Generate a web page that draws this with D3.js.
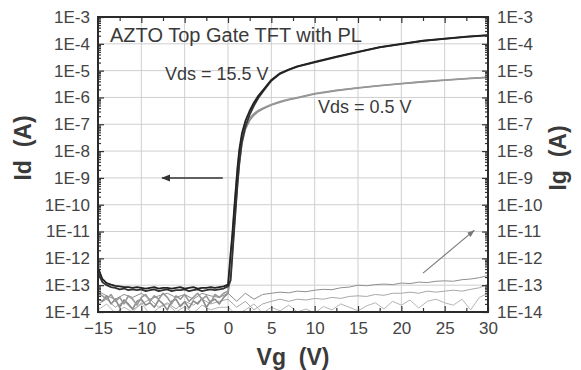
<!DOCTYPE html>
<html><head><meta charset="utf-8">
<script src="https://cdn.jsdelivr.net/npm/d3@7"></script>
<style>
html,body{margin:0;padding:0;background:#fff;}
svg{display:block;font-family:"Liberation Sans",Arial,sans-serif;}
</style></head>
<body><svg id="c" width="581" height="370"></svg>
<script>
// ---------- data ----------
const vgSweep = [-15,-14.5,-14,-13.5,-13,-12.5,-12,-11.5,-11,-10.5,-10,-9.5,-9,-8.5,-8,-7.5,-7,-6.5,-6,-5.5,-5,-4.5,-4,-3.5,-3,-2.5,-2,-1.5,-1,-0.5,0,
  0.3,0.5,0.7,0.9,1.1,1.3,1.6,2,2.5,3,3.5,4,5,6,7,8,10,12.5,15,17.5,20,22.5,25,27.5,30];
// Vds = 15.5 V (two sweeps)
const idHighFwd = [4.5e-13,1.7e-13,1.2e-13,1.05e-13,9.5e-14,9e-14,8.5e-14,8.5e-14,8e-14,8.5e-14,8e-14,7.5e-14,8e-14,8.5e-14,7.5e-14,8e-14,8e-14,7.5e-14,8e-14,8.5e-14,7.5e-14,8e-14,8.5e-14,7.5e-14,8e-14,8e-14,8.5e-14,8e-14,8.5e-14,9e-14,1.05e-13,
  1.5e-12,8e-12,6e-11,4e-10,2.5e-9,1.1e-8,4.5e-8,1.3e-7,3.2e-7,6.5e-7,1.15e-6,1.8e-6,4.5e-6,8e-6,1.1e-5,1.45e-5,2.1e-5,3.3e-5,5e-5,7.5e-5,1.0e-4,1.3e-4,1.55e-4,1.85e-4,2.1e-4];
const idHighRev = [3e-13,1.3e-13,1e-13,8.5e-14,8e-14,7e-14,7.5e-14,6.5e-14,7e-14,6.5e-14,7e-14,6e-14,6.5e-14,7e-14,6e-14,6.5e-14,7e-14,6e-14,6.5e-14,6.5e-14,7e-14,6e-14,6.5e-14,7e-14,6e-14,6.5e-14,7e-14,6.5e-14,7e-14,7.5e-14,9e-14,
  1.5e-13,1.2e-12,1e-11,8e-11,6e-10,3.5e-9,2.2e-8,8e-8,2.3e-7,5e-7,9.5e-7,1.6e-6,4.2e-6,7.6e-6,1.07e-5,1.4e-5,2.05e-5,3.2e-5,4.9e-5,7.3e-5,9.8e-5,1.28e-4,1.52e-4,1.82e-4,2.05e-4];
// Vds = 0.5 V (two sweeps)
const idLowFwd = [5e-14,4e-14,3e-14,4.5e-14,2.5e-14,3.5e-14,2e-14,4e-14,3e-14,1.8e-14,3.5e-14,4.5e-14,2.5e-14,4e-14,3e-14,5e-14,3.5e-14,2e-14,4e-14,3e-14,4.5e-14,2.5e-14,3.5e-14,5e-14,3e-14,4e-14,2.2e-14,4.5e-14,3.5e-14,5e-14,6e-14,
  1.2e-12,7e-12,5e-11,3.5e-10,2.2e-9,9e-9,3.5e-8,9e-8,1.7e-7,2.5e-7,3.3e-7,4e-7,5.5e-7,7e-7,8.5e-7,1e-6,1.4e-6,1.85e-6,2.3e-6,2.8e-6,3.3e-6,3.9e-6,4.5e-6,5.1e-6,5.7e-6];
const idLowRev = [3e-14,2.5e-14,4e-14,2e-14,3e-14,1.5e-14,2.8e-14,2e-14,1.3e-14,2.5e-14,3e-14,1.8e-14,2.2e-14,1.5e-14,2.8e-14,2e-14,1.2e-14,2.5e-14,3e-14,1.6e-14,2.4e-14,1.4e-14,2.6e-14,2e-14,3.2e-14,1.5e-14,2.5e-14,3e-14,2e-14,3.5e-14,5e-14,
  2e-13,1.5e-12,1.2e-11,9e-11,6e-10,3e-9,1.8e-8,6.5e-8,1.4e-7,2.2e-7,3e-7,3.7e-7,5.2e-7,6.7e-7,8.2e-7,9.6e-7,1.35e-6,1.8e-6,2.25e-6,2.75e-6,3.25e-6,3.8e-6,4.4e-6,5e-6,5.6e-6];
// gate leakage
const vgIg = [-15,-14,-13,-12,-11,-10,-9,-8,-7,-6,-5,-4,-3,-2,-1,0,1,2,3,4,5,6,7,8,9,10,11,12,13,14,15,16,17,18,19,20,21,22,23,24,25,26,27,28,29,30];
const ig1 = [6e-14,4e-14,3e-14,4.5e-14,3.5e-14,5e-14,3e-14,4e-14,5e-14,3.5e-14,4.5e-14,3e-14,5e-14,4e-14,3.5e-14,
  5e-14,2.5e-14,5e-14,3e-14,4.5e-14,5e-14,5.5e-14,5.2e-14,6e-14,5.7e-14,6.5e-14,7e-14,6.8e-14,8e-14,8.5e-14,1e-13,9.5e-14,1.05e-13,1.1e-13,1.05e-13,1.2e-13,1.15e-13,1.3e-13,1.25e-13,1.4e-13,1.45e-13,1.4e-13,1.6e-13,1.7e-13,1.9e-13,2.3e-13];
const ig2 = [2e-14,3e-14,1.5e-14,2.5e-14,1.2e-14,2e-14,3e-14,1.5e-14,2.2e-14,1.3e-14,2.5e-14,1.8e-14,3e-14,2e-14,2.5e-14,
  3e-14,1.5e-14,2.5e-14,1.2e-14,2e-14,2.5e-14,3e-14,2.5e-14,3e-14,2.8e-14,3.2e-14,3e-14,3.5e-14,3.2e-14,3.8e-14,4e-14,3.8e-14,4.5e-14,4.2e-14,5e-14,5e-14,5.5e-14,5e-14,6e-14,5.5e-14,6e-14,6.5e-14,6e-14,7e-14,8e-14,1.1e-13];
const ig3 = [1.2e-14,2e-14,9e-15,1.5e-14,1e-14,2.2e-14,8e-15,1.4e-14,2e-14,1e-14,1.6e-14,9e-15,1.8e-14,1.2e-14,1.5e-14,
  1.5e-14,8e-15,1.2e-14,2e-14,9e-15,1.5e-14,1.1e-14,1.8e-14,1e-14,1.3e-14,9e-15,1.6e-14,1.2e-14,2e-14,1.5e-14,1.1e-14,1.7e-14,2.2e-14,1.3e-14,2.5e-14,1.8e-14,2.8e-14,1.4e-14,2.5e-14,3e-14,2.2e-14,1.8e-14,3e-14,1.2e-14,3.5e-14,5e-14];
const xTicks = [-15,-10,-5,0,5,10,15,20,25,30];
const yExponents = [-14,-13,-12,-11,-10,-9,-8,-7,-6,-5,-4,-3];
const yTickLabels = ["1E-14","1E-13","1E-12","1E-11","1E-10","1E-9","1E-8","1E-7","1E-6","1E-5","1E-4","1E-3"];
const titleText = "AZTO Top Gate TFT with PL";
const seriesLabels = ["Vds = 15.5 V","Vds = 0.5 V"];
const arrowLeft = [[-0.6,1e-9],[-7.6,1e-9]];
const arrowRight = [[22.5,2.8e-13],[28.4,1.1e-11]];

// ---------- layout ----------
const svg = d3.select("#c");
const L=98, R=488, T=17, B=312;
const x = d3.scaleLinear().domain([-15,30]).range([L,R]);
const y = d3.scaleLog().domain([1e-14,1e-3]).range([B,T]);
const decades = yExponents.map(e=>Math.pow(10,e));
const minors = [];
for (let e=-14;e<-3;e++) for (let k=2;k<10;k++) minors.push(k*Math.pow(10,e));
const xMinor = d3.range(-12.5,30,5);

svg.append("defs").append("clipPath").attr("id","clip")
  .append("rect").attr("x",L).attr("y",T).attr("width",R-L).attr("height",B-T);
const mk = svg.select("defs");
mk.append("marker").attr("id","ah").attr("viewBox","0 0 10 10").attr("refX",9).attr("refY",5)
  .attr("markerWidth",6).attr("markerHeight",6).attr("orient","auto")
  .append("path").attr("d","M0,1L10,5L0,9Z").attr("fill","#333");
mk.append("marker").attr("id","ah2").attr("viewBox","0 0 10 10").attr("refX",9).attr("refY",5)
  .attr("markerWidth",7).attr("markerHeight",7).attr("orient","auto")
  .append("path").attr("d","M0,1.5L10,5L0,8.5Z").attr("fill","#777");

// grid
const g = svg.append("g");
g.selectAll(".gx").data(xTicks.slice(1,-1)).join("line")
  .attr("x1",d=>x(d)).attr("x2",d=>x(d)).attr("y1",T).attr("y2",B)
  .attr("stroke","#cfcfcf").attr("stroke-width",1);
g.selectAll(".gy").data(decades.slice(1,-1)).join("line")
  .attr("y1",d=>y(d)).attr("y2",d=>y(d)).attr("x1",L).attr("x2",R)
  .attr("stroke","#cfcfcf").attr("stroke-width",1);

// curves
const plot = svg.append("g").attr("clip-path","url(#clip)");
const line = d3.line().x(d=>x(d[0])).y(d=>y(Math.max(d[1],5e-15)));
const zip = (xs,ys)=>xs.map((v,i)=>[v,ys[i]]);
const drawSeries = (xs,ys,color,w)=>plot.append("path").datum(zip(xs,ys))
  .attr("d",line).attr("fill","none").attr("stroke",color).attr("stroke-width",w).attr("stroke-linejoin","round");
drawSeries(vgIg,ig3,"#b5b5b5",1);
drawSeries(vgIg,ig2,"#a8a8a8",1);
drawSeries(vgIg,ig1,"#8f8f8f",1);
drawSeries(vgSweep,idLowRev,"#8a8a8a",1.6);
drawSeries(vgSweep,idLowFwd,"#999",1.6);
drawSeries(vgSweep,idHighRev,"#333",1.8);
drawSeries(vgSweep,idHighFwd,"#222",1.8);

// arrows
svg.append("line").attr("x1",x(arrowLeft[0][0])).attr("y1",y(arrowLeft[0][1]))
  .attr("x2",x(arrowLeft[1][0])).attr("y2",y(arrowLeft[1][1]))
  .attr("stroke","#333").attr("stroke-width",1.5).attr("marker-end","url(#ah)");
svg.append("line").attr("x1",x(arrowRight[0][0])).attr("y1",y(arrowRight[0][1]))
  .attr("x2",x(arrowRight[1][0])).attr("y2",y(arrowRight[1][1]))
  .attr("stroke","#777").attr("stroke-width",1.1).attr("marker-end","url(#ah2)");

// axes
const fmtY = d=>yTickLabels[yExponents.indexOf(Math.round(Math.log10(d)))];
const styleAxis = sel=>{sel.select(".domain").remove();
  sel.selectAll("line").attr("stroke","#333").attr("stroke-width",1.2);
  sel.selectAll("text").attr("fill","#444").style("font-size","17px").style("font-family","'Liberation Sans',Arial,sans-serif");};
svg.append("g").attr("transform",`translate(${L},0)`)
  .call(d3.axisLeft(y).tickValues(decades).tickSize(-6).tickPadding(8).tickFormat(fmtY)).call(styleAxis);
svg.append("g").attr("transform",`translate(${L},0)`)
  .call(d3.axisLeft(y).tickValues(minors).tickSize(-3).tickFormat("")).call(styleAxis);
svg.append("g").attr("transform",`translate(${R},0)`)
  .call(d3.axisRight(y).tickValues(decades).tickSize(-6).tickPadding(9).tickFormat(fmtY)).call(styleAxis);
svg.append("g").attr("transform",`translate(${R},0)`)
  .call(d3.axisRight(y).tickValues(minors).tickSize(-3).tickFormat("")).call(styleAxis);
svg.append("g").attr("transform",`translate(0,${B})`)
  .call(d3.axisBottom(x).tickValues(xTicks).tickSize(-6).tickPadding(10).tickFormat(d3.format("d"))).call(styleAxis);
svg.append("g").attr("transform",`translate(0,${B})`)
  .call(d3.axisBottom(x).tickValues(xMinor).tickSize(-4).tickFormat("")).call(styleAxis);
svg.append("g").attr("transform",`translate(0,${T})`)
  .call(d3.axisTop(x).tickValues(xTicks).tickSize(-6).tickFormat("")).call(styleAxis);
svg.append("g").attr("transform",`translate(0,${T})`)
  .call(d3.axisTop(x).tickValues(xMinor).tickSize(-4).tickFormat("")).call(styleAxis);
svg.append("rect").attr("x",L).attr("y",T).attr("width",R-L).attr("height",B-T)
  .attr("fill","none").attr("stroke","#2a2a2a").attr("stroke-width",2);

// texts
const txt = (s,xx,yy,size,extra)=>{const t=svg.append("text").attr("x",xx).attr("y",yy)
  .attr("fill","#3a3a3a").style("font-size",size+"px").style("white-space","pre").text(s); if(extra) extra(t); return t;};
txt(titleText,110,42,20);
txt(seriesLabels[0],165,80,18);
txt(seriesLabels[1],318,113,18);
txt("Vg  (V)",293,365,23,t=>t.attr("text-anchor","middle").style("font-weight","bold"));
txt("Id  (A)",0,0,23,t=>t.attr("text-anchor","middle").style("font-weight","bold").attr("transform","translate(31,148) rotate(-90)"));
txt("Ig  (A)",0,0,23,t=>t.attr("text-anchor","middle").style("font-weight","bold").attr("transform","translate(566,158) rotate(-90)"));
</script></body></html>
